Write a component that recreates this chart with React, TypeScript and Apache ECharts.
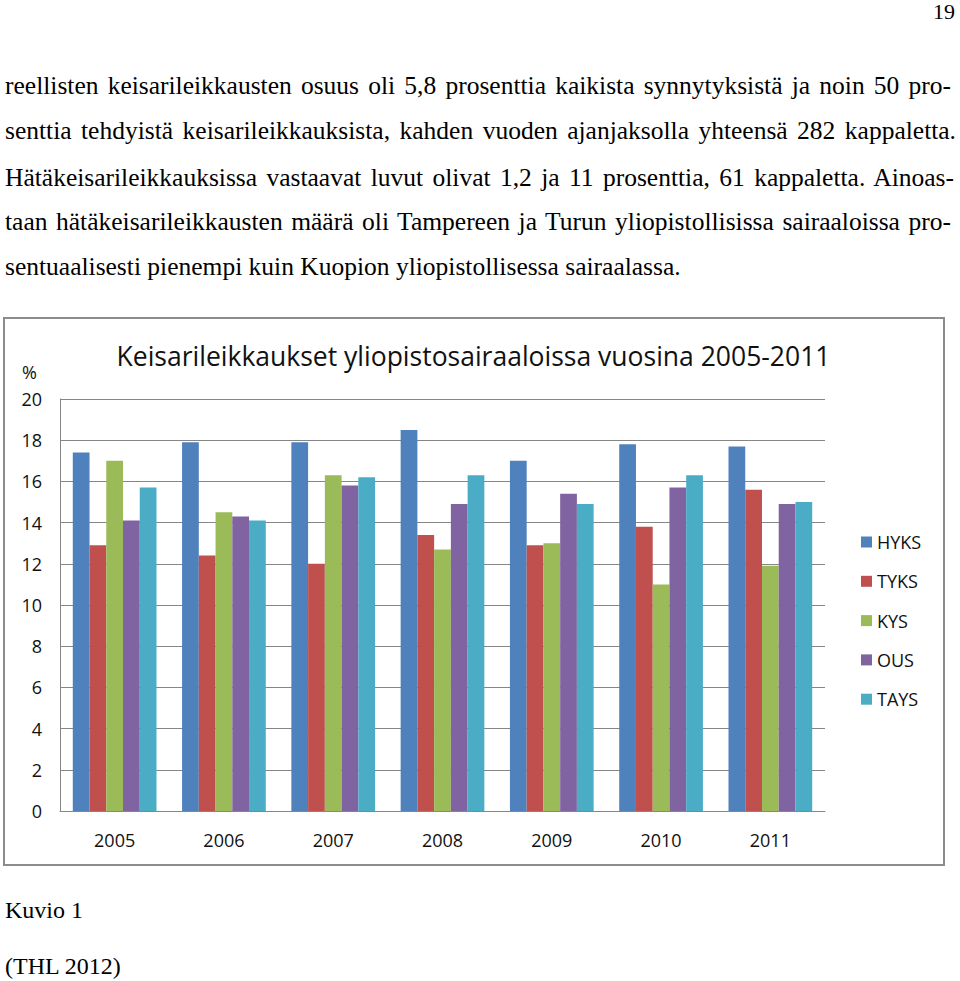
import React, { useEffect, useRef } from "react";
import * as echarts from "echarts";

const years = ["2005", "2006", "2007", "2008", "2009", "2010", "2011"];
const seriesNames = ["HYKS", "TYKS", "KYS", "OUS", "TAYS"];
const HYKS = [17.4, 17.9, 17.9, 18.5, 17.0, 17.8, 17.7];
const TYKS = [12.9, 12.4, 12.0, 13.4, 12.9, 13.8, 15.6];
const KYS = [17.0, 14.5, 16.3, 12.7, 13.0, 11.0, 11.9];
const OUS = [14.1, 14.3, 15.8, 14.9, 15.4, 15.7, 14.9];
const TAYS = [15.7, 14.1, 16.2, 16.3, 14.9, 16.3, 15.0];
const colors = ["#4F81BD", "#C0504D", "#9BBB59", "#8064A2", "#4BACC6"];

const chartTitle = "Keisarileikkaukset yliopistosairaaloissa vuosina 2005-2011";
const unitLabel = "%";

const paragraphLines = [
  "reellisten keisarileikkausten osuus oli 5,8 prosenttia kaikista synnytyksistä ja noin 50 pro-",
  "senttia tehdyistä keisarileikkauksista, kahden vuoden ajanjaksolla yhteensä 282 kappaletta.",
  "Hätäkeisarileikkauksissa vastaavat luvut olivat 1,2 ja 11 prosenttia, 61 kappaletta. Ainoas-",
  "taan hätäkeisarileikkausten määrä oli Tampereen ja Turun yliopistollisissa sairaaloissa pro-",
  "sentuaalisesti pienempi kuin Kuopion yliopistollisessa sairaalassa.",
];
const lineCenters = [86, 131, 178, 222, 267];
const lineWidths = [946, 951, 949, 946, 0];

export default function App() {
  const ref = useRef<HTMLDivElement>(null);

  useEffect(() => {
    if (!ref.current) return;
    const chart = echarts.init(ref.current, undefined, { renderer: "svg" });
    const data = [HYKS, TYKS, KYS, OUS, TAYS];
    const font = "'Open Sans', sans-serif";
    chart.setOption({
      animation: false,
      backgroundColor: "transparent",
      textStyle: { fontFamily: font },
      grid: { left: 60, right: 135, top: 399, bottom: 170, containLabel: false },
      legend: {
        orient: "vertical",
        left: 861,
        top: 532,
        padding: 0,
        itemWidth: 11,
        itemHeight: 11,
        itemGap: 19.3,
        icon: "rect",
        data: seriesNames,
        textStyle: { fontFamily: font, fontSize: 18, color: "#111", lineHeight: 20 },
      },
      xAxis: {
        type: "category",
        data: years,
        axisLine: { show: true, lineStyle: { color: "#868686", width: 1 } },
        axisTick: { show: false },
        axisLabel: { fontFamily: font, fontSize: 18, color: "#111", margin: 20 },
      },
      yAxis: {
        type: "value",
        min: 0,
        max: 20,
        interval: 2,
        axisLine: { show: true, lineStyle: { color: "#868686", width: 1 } },
        axisTick: { show: false },
        splitLine: { show: true, lineStyle: { color: "#868686", width: 1 } },
        axisLabel: { fontFamily: font, fontSize: 18, color: "#111", margin: 18 },
      },
      series: seriesNames.map((name, i) => ({
        name,
        type: "bar",
        data: data[i],
        barGap: "0%",
        barCategoryGap: "23.4%",
        itemStyle: { color: colors[i] },
      })),
      graphic: [
        {
          type: "rect",
          shape: { x: 4, y: 318, width: 940, height: 547 },
          style: { fill: "none", stroke: "#8c8c8c", lineWidth: 2 },
          silent: true,
        },
        {
          type: "text",
          x: 473.5,
          y: 356,
          style: {
            text: chartTitle,
            fontFamily: font,
            fontSize: 26.5,
            fill: "#111",
            align: "center",
            verticalAlign: "middle",
          },
        },
        {
          type: "text",
          x: 29.5,
          y: 372,
          style: {
            text: unitLabel,
            fontFamily: font,
            fontSize: 18,
            fill: "#111",
            align: "center",
            verticalAlign: "middle",
          },
        },
      ],
    });
    return () => chart.dispose();
  }, []);

  const serif = "'Liberation Serif', 'Times New Roman', serif";

  return (
    <div
      style={{
        position: "absolute",
        left: 0,
        top: 0,
        width: 960,
        height: 981,
        background: "#fff",
        overflow: "hidden",
      }}
    >
      <div ref={ref} style={{ position: "absolute", left: 0, top: 0, width: 960, height: 981 }} />
      <div
        style={{
          position: "absolute",
          right: 5,
          top: 0,
          fontFamily: serif,
          fontSize: 22,
          lineHeight: "24px",
          color: "#000",
        }}
      >
        19
      </div>
      {paragraphLines.map((line, i) => {
        const justified = lineWidths[i] > 0;
        return (
          <div
            key={i}
            style={{
              position: "absolute",
              left: 5,
              top: lineCenters[i] - 16,
              width: justified ? lineWidths[i] : undefined,
              height: 32,
              lineHeight: "32px",
              fontFamily: serif,
              fontSize: 25.5,
              color: "#000",
              whiteSpace: "nowrap",
              textAlign: justified ? "justify" : "left",
              textAlignLast: justified ? "justify" : "left",
            }}
          >
            {line}
          </div>
        );
      })}
      <div
        style={{
          position: "absolute",
          left: 5,
          top: 895,
          fontFamily: serif,
          fontSize: 24,
          lineHeight: "30px",
          color: "#000",
        }}
      >
        Kuvio 1
      </div>
      <div
        style={{
          position: "absolute",
          left: 5,
          top: 951,
          fontFamily: serif,
          fontSize: 24,
          lineHeight: "30px",
          color: "#000",
        }}
      >
        (THL 2012)
      </div>
    </div>
  );
}
